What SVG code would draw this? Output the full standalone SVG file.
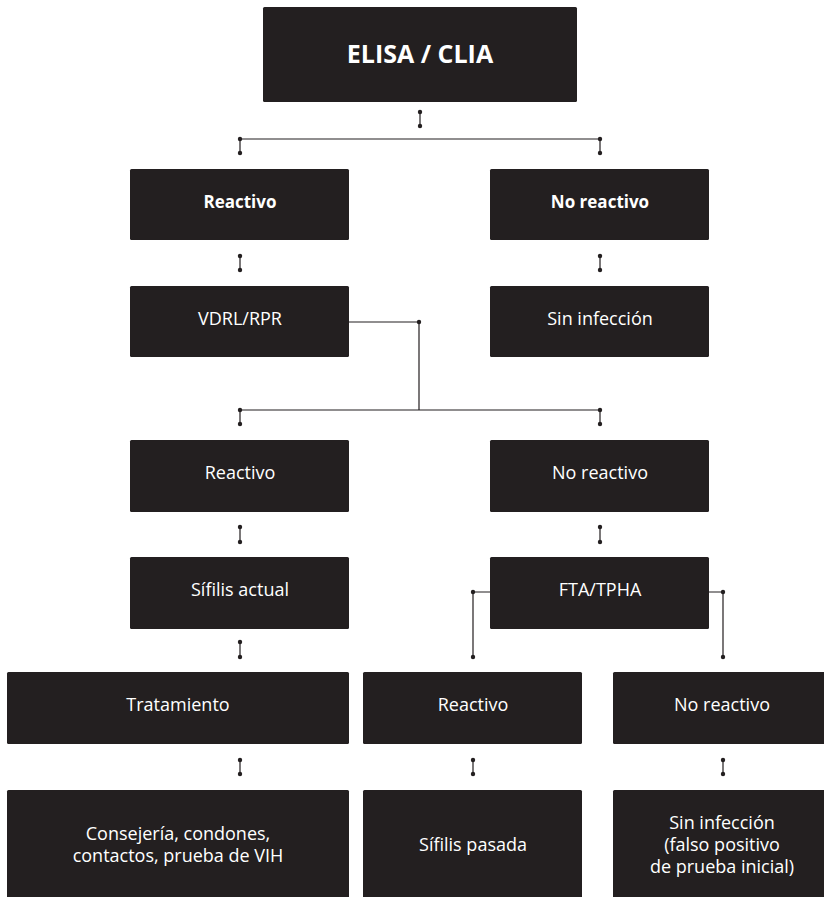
<svg xmlns="http://www.w3.org/2000/svg" width="824" height="897" viewBox="0 0 824 897">
  <style>
    .box { fill: #231f20; }
    .lbl { fill: #ffffff; font-family: "Open Sans", "Noto Sans", "Liberation Sans", sans-serif; font-size: 18px; text-anchor: middle; }
    .bold { font-weight: 700; font-size: 17px; }
    .title { font-weight: 700; font-size: 25px; }
    .ln { stroke: #231f20; stroke-width: 1.2; fill: none; }
    .dot { fill: #231f20; }
  </style>
  <rect width="824" height="897" fill="#ffffff"/>

  <!-- connectors -->
  <g id="connectors">
    <path class="ln" d="M420 112V126"/>
    <path class="ln" d="M240 153V139H600V153"/>
    <path class="ln" d="M240 256V270M600 256V270"/>
    <path class="ln" d="M349 322H419V410"/>
    <path class="ln" d="M240 424V410H600V424"/>
    <path class="ln" d="M240 527V542M600 527V542"/>
    <path class="ln" d="M491 592H473V657M709 592H723V657"/>
    <path class="ln" d="M240 642V657"/>
    <path class="ln" d="M240 760V774M473 760V774M723 760V774"/>
    <g class="dot">
      <circle cx="420" cy="112" r="2.2"/><circle cx="420" cy="126" r="2.2"/>
      <circle cx="240" cy="139" r="2.2"/><circle cx="600" cy="139" r="2.2"/>
      <circle cx="240" cy="153" r="2.2"/><circle cx="600" cy="153" r="2.2"/>
      <circle cx="240" cy="256" r="2.2"/><circle cx="240" cy="270" r="2.2"/>
      <circle cx="600" cy="256" r="2.2"/><circle cx="600" cy="270" r="2.2"/>
      <circle cx="419" cy="322" r="2.2"/>
      <circle cx="240" cy="410" r="2.2"/><circle cx="600" cy="410" r="2.2"/>
      <circle cx="240" cy="424" r="2.2"/><circle cx="600" cy="424" r="2.2"/>
      <circle cx="240" cy="527" r="2.2"/><circle cx="240" cy="542" r="2.2"/>
      <circle cx="600" cy="527" r="2.2"/><circle cx="600" cy="542" r="2.2"/>
      <circle cx="473" cy="592" r="2.2"/><circle cx="473" cy="657" r="2.2"/>
      <circle cx="723" cy="592" r="2.2"/><circle cx="723" cy="657" r="2.2"/>
      <circle cx="240" cy="642" r="2.2"/><circle cx="240" cy="657" r="2.2"/>
      <circle cx="240" cy="760" r="2.2"/><circle cx="240" cy="774" r="2.2"/>
      <circle cx="473" cy="760" r="2.2"/><circle cx="473" cy="774" r="2.2"/>
      <circle cx="723" cy="760" r="2.2"/><circle cx="723" cy="774" r="2.2"/>
    </g>
  </g>

  <!-- nodes -->
  <g id="n-elisa">
    <rect class="box" x="263" y="7" width="314" height="95" rx="1.5"/>
    <text class="lbl title" x="420" y="63">ELISA / CLIA</text>
  </g>
  <g id="n-reactivo1">
    <rect class="box" x="130" y="169" width="219" height="71" rx="1.5"/>
    <text class="lbl bold" x="240" y="208">Reactivo</text>
  </g>
  <g id="n-noreactivo1">
    <rect class="box" x="490" y="169" width="219" height="71" rx="1.5"/>
    <text class="lbl bold" x="600" y="208">No reactivo</text>
  </g>
  <g id="n-vdrl">
    <rect class="box" x="130" y="286" width="219" height="71" rx="1.5"/>
    <text class="lbl" x="240" y="325">VDRL/RPR</text>
  </g>
  <g id="n-sininfeccion1">
    <rect class="box" x="490" y="286" width="219" height="71" rx="1.5"/>
    <text class="lbl" x="600" y="325">Sin infección</text>
  </g>
  <g id="n-reactivo2">
    <rect class="box" x="130" y="440" width="219" height="72" rx="1.5"/>
    <text class="lbl" x="240" y="479">Reactivo</text>
  </g>
  <g id="n-noreactivo2">
    <rect class="box" x="490" y="440" width="219" height="72" rx="1.5"/>
    <text class="lbl" x="600" y="479">No reactivo</text>
  </g>
  <g id="n-sifilisactual">
    <rect class="box" x="130" y="557" width="219" height="72" rx="1.5"/>
    <text class="lbl" x="240" y="596">Sífilis actual</text>
  </g>
  <g id="n-fta">
    <rect class="box" x="490" y="557" width="219" height="72" rx="1.5"/>
    <text class="lbl" x="600" y="596">FTA/TPHA</text>
  </g>
  <g id="n-tratamiento">
    <rect class="box" x="7" y="672" width="342" height="72" rx="1.5"/>
    <text class="lbl" x="178" y="711">Tratamiento</text>
  </g>
  <g id="n-reactivo3">
    <rect class="box" x="363" y="672" width="219" height="72" rx="1.5"/>
    <text class="lbl" x="473" y="711">Reactivo</text>
  </g>
  <g id="n-noreactivo3">
    <rect class="box" x="613" y="672" width="218" height="72" rx="1.5"/>
    <text class="lbl" x="722" y="711">No reactivo</text>
  </g>
  <g id="n-consejeria">
    <rect class="box" x="7" y="790" width="342" height="112" rx="1.5"/>
    <text class="lbl" x="178" y="840">Consejería, condones,</text>
    <text class="lbl" x="178" y="862">contactos, prueba de VIH</text>
  </g>
  <g id="n-sifilispasada">
    <rect class="box" x="363" y="790" width="219" height="112" rx="1.5"/>
    <text class="lbl" x="473" y="851">Sífilis pasada</text>
  </g>
  <g id="n-sininfeccion2">
    <rect class="box" x="613" y="790" width="218" height="112" rx="1.5"/>
    <text class="lbl" x="722" y="829">Sin infección</text>
    <text class="lbl" x="722" y="851">(falso positivo</text>
    <text class="lbl" x="722" y="873">de prueba inicial)</text>
  </g>
</svg>
